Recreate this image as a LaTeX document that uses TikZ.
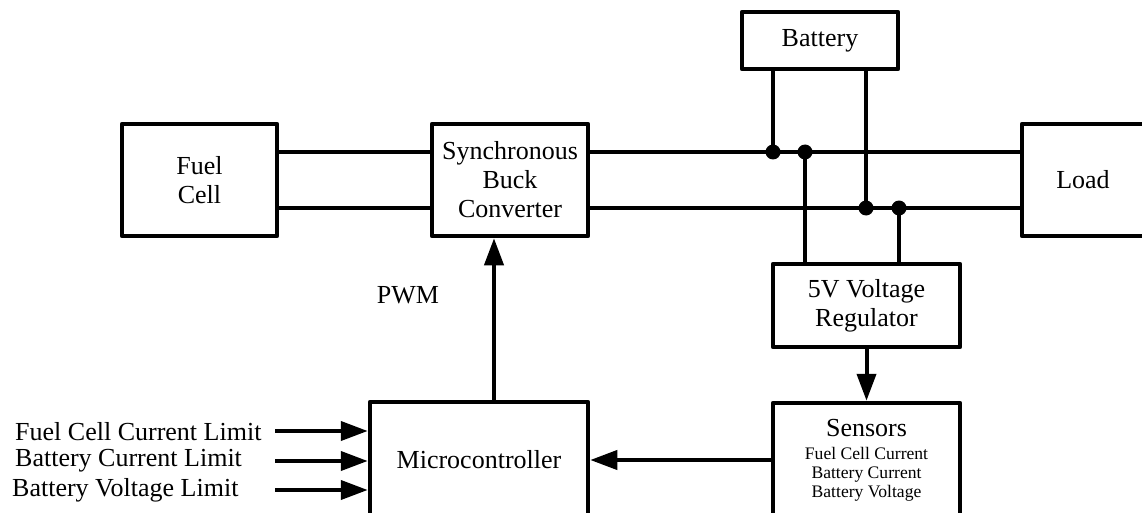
\documentclass[tikz,border=0pt]{standalone}
\usepackage{fontspec}
\setmainfont{Liberation Serif}
\usetikzlibrary{arrows.meta}

\begin{document}
\begin{tikzpicture}[
    x=1pt, y=-1pt,
    block/.style={rectangle, draw=black, line width=4.5pt, line join=round, align=center, inner sep=0pt, font=\fontsize{26}{29}\selectfont},
    wire/.style={line width=4pt},
    arrow/.style={wire, -{Triangle[length=27pt,width=19pt]}},
    txt/.style={inner sep=0pt, font=\fontsize{26}{29}\selectfont}
]
    \useasboundingbox (0,0) rectangle (1142,513);
    \clip (0,0) rectangle (1142,513);

    % Nodes
    \node[block, minimum width=155pt, minimum height=112pt] (fc) at (199.5,180) {Fuel\\Cell};
    \node[block, minimum width=156pt, minimum height=112pt] (bc) at (510,180) {Synchronous\\Buck\\Converter};
    \node[block, minimum width=156pt, minimum height=57pt] (bat) at (820,40.5) {Battery};
    \node[block, minimum width=122pt, minimum height=112pt] (load) at (1083,180) {Load};
    \node[block, minimum width=187pt, minimum height=83pt] (reg) at (866.5,305.5) {5V Voltage\\Regulator};
    \node[block, minimum width=187pt, minimum height=114pt] (sens) at (866.5,460) {Sensors\\[-6pt]{\fontsize{17.6}{18.5}\selectfont Fuel Cell Current}\\[-10pt]{\fontsize{17.6}{18.5}\selectfont Battery Current}\\[-10pt]{\fontsize{17.6}{18.5}\selectfont Battery Voltage}};
    \node[block, minimum width=218pt, minimum height=116pt] (mc) at (479,460) {Microcontroller};
    \node[txt] (pwm) at (408,295) {PWM};

    % Inputs
    \node[txt, anchor=west] (fcl) at (15,432) {Fuel Cell Current Limit};
    \node[txt, anchor=west] (bcl) at (15,461) {Battery Current Limit};
    \node[txt, anchor=west] (bvl) at (12,490) {Battery Voltage Limit};
    \coordinate (in1) at (275,431);
    \coordinate (in2) at (275,461);
    \coordinate (in3) at (275,490);

    % Junctions
    \coordinate (j1) at (773,152);
    \coordinate (j2) at (805,152);
    \coordinate (j3) at (866,208);
    \coordinate (j4) at (899,208);

    % Power lines
    \draw[wire] ([yshift=28pt]fc.east) -- ([yshift=28pt]bc.west);
    \draw[wire] ([yshift=-28pt]fc.east) -- ([yshift=-28pt]bc.west);
    \draw[wire] ([yshift=28pt]bc.east) -- ([yshift=28pt]load.west);
    \draw[wire] ([yshift=-28pt]bc.east) -- ([yshift=-28pt]load.west);
    \draw[wire] (j1 |- bat.south) -- (j1);
    \draw[wire] (j3 |- bat.south) -- (j3);
    \draw[wire] (j2) -- (j2 |- reg.north);
    \draw[wire] (j4) -- (j4 |- reg.north);
    \foreach \j in {j1,j2,j3,j4}
        \fill (\j) circle (7.5pt);

    % Arrows
    \draw[arrow] ([xshift=15pt]mc.north) -- ([xshift=15pt]mc.north |- bc.south);
    \draw[arrow] (reg.south) -- (sens.north);
    \draw[arrow] (sens.west) -- (mc.east);
    \foreach \i in {in1,in2,in3}
        \draw[arrow] (\i) -- (\i -| mc.west);
\end{tikzpicture}
\end{document}
